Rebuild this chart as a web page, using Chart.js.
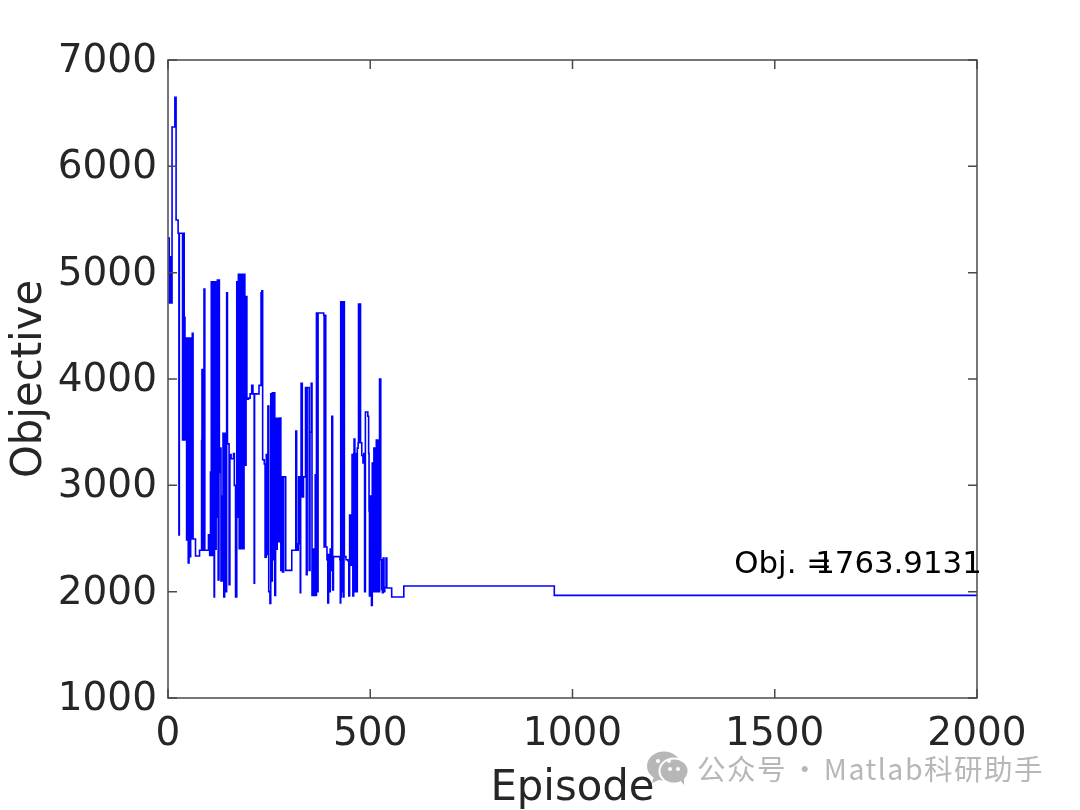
<!DOCTYPE html>
<html>
<head>
<meta charset="utf-8">
<style>
html, body { margin: 0; padding: 0; background: #fff; }
#wrap { position: relative; width: 1080px; height: 810px; overflow: hidden; }
#mark { position: absolute; left: 697px; top: 747px; font: 28.5px "Noto Sans CJK SC"; letter-spacing: 1.5px; word-spacing: -4.5px; color: #b7b7b7; white-space: nowrap; }
</style>
<script src="https://cdn.jsdelivr.net/npm/chart.js@4"></script>
</head>
<body>
<div id="wrap">
<canvas id="myChart" width="1080" height="810"></canvas>
<div id="mark">公众号 · Matlab科研助手</div>
</div>
<script>
var xTicks = [0, 500, 1000, 1500, 2000];
var yTicks = [1000, 2000, 3000, 4000, 5000, 6000, 7000];
var annotations = [
    { text: 'Obj. =', x: 1400, y: 2250 },
    { text: '1763.9131', x: 1600, y: 2250 }
];

var episodes = [
    0, 3, 5, 6, 10, 17, 20, 25, 27, 28,
    36, 38, 40, 42, 44, 46, 48, 50, 52, 54,
    56, 58, 60, 62, 66, 68, 74, 78, 82, 83,
    84, 86, 89, 91, 100, 103, 105, 107, 109, 110,
    112, 114, 115, 117, 119, 120, 122, 124, 126, 127,
    129, 131, 134, 136, 138, 140, 142, 145, 147, 151,
    153, 156, 160, 162, 164, 167, 170, 172, 174, 176,
    178, 181, 183, 186, 188, 190, 193, 195, 199, 203,
    207, 210, 213, 214, 222, 225, 228, 230, 232, 234,
    238, 240, 243, 245, 247, 249, 252, 254, 256, 258,
    260, 262, 264, 266, 268, 270, 272, 274, 276, 277,
    279, 281, 283, 286, 291, 306, 314, 316, 318, 322,
    323, 326, 327, 328, 329, 332, 335, 340, 342, 344,
    347, 349, 351, 354, 356, 358, 360, 362, 364, 366,
    367, 368, 369, 370, 371, 385, 386, 387, 388, 390,
    393, 395, 397, 399, 401, 403, 405, 407, 409, 415,
    425, 426, 427, 428, 429, 430, 431, 432, 433, 434,
    435, 436, 440, 445, 447, 449, 451, 453, 455, 457,
    459, 460, 462, 464, 466, 468, 470, 471, 473, 474,
    476, 479, 482, 484, 486, 488, 491, 494, 496, 497,
    498, 500, 503, 505, 506, 507, 508, 509, 510, 511,
    512, 513, 514, 515, 516, 517, 518, 519, 520, 521,
    522, 523, 526, 528, 530, 532, 534, 536, 539, 541,
    553, 583, 955, 2000
];
var objective = [
    5326, 4715, 5150, 4715, 6370, 6650, 5495, 5370, 2533, 5370,
    3426, 5370, 4580, 3426, 4385, 2486, 4385, 2270, 4385, 2330,
    4385, 2495, 4430, 2495, 2495, 2335, 2335, 2390, 2390, 3420,
    4090, 2390, 4845, 2390, 2535, 2340, 3125, 4915, 2340, 4915,
    3300, 1950, 4915, 2400, 4915, 2700, 4930, 2110, 4930, 3120,
    3350, 2100, 2900, 3490, 1950, 3490, 2000, 4810, 3390, 2065,
    3290, 3250, 3250, 3300, 3000, 1950, 4915, 2700, 4985, 2405,
    4985, 2405, 4985, 2405, 4985, 3190, 4775, 3810, 3820, 3860,
    3940, 3860, 2080, 3860, 3860, 3940, 3940, 4810, 4830, 3240,
    3200, 2325, 3290, 2350, 3745, 2000, 1890, 3860, 2100, 3870,
    2300, 3870, 1965, 3630, 2400, 3630, 2470, 3630, 2470, 3633,
    2200, 3080, 2185, 3080, 2200, 2390, 2390, 3510, 2390, 2450,
    3080, 2450, 1990, 3080, 3960, 2890, 3080, 3920, 2160, 3920,
    3920, 2200, 3500, 3960, 1965, 2400, 1965, 2400, 3100, 1965,
    4620, 2400, 4620, 2000, 4620, 4600, 2420, 4600, 4600, 2420,
    2300, 1893, 2350, 2000, 2400, 2200, 3650, 2015, 2330, 2330,
    2300, 1895, 4725, 1950, 4725, 2300, 4725, 2000, 4725, 1950,
    4725, 2330, 2300, 2290, 1960, 2720, 2250, 2720, 3290, 1960,
    3300, 3435, 2000, 3300, 2000, 3350, 3400, 4705, 3400, 4705,
    3400, 3280, 3210, 3300, 2000, 3690, 3690, 3650, 3300, 2760,
    1960, 2900, 1870, 3210, 2000, 3100, 2100, 3350, 2000, 3350,
    2000, 3350, 2000, 3425, 2100, 3425, 2000, 3425, 2000, 2900,
    2000, 4000, 2300, 2020, 1990, 2315, 2000, 2040, 2315, 2035,
    1950, 2053, 1965, 1965
];

var points = episodes.map(function (e, i) { return { x: e, y: objective[i] }; });

// box and inward ticks on all four sides, like a MATLAB axes
var boxPlugin = {
    id: 'boxPlugin',
    afterDatasetsDraw: function (chart) {
        var ctx = chart.ctx, a = chart.chartArea, sx = chart.scales.x, sy = chart.scales.y;
        var len = 9;
        ctx.save();
        ctx.strokeStyle = '#4a4a4a';
        ctx.lineWidth = 1.5;
        ctx.strokeRect(a.left, a.top, a.right - a.left, a.bottom - a.top);
        ctx.beginPath();
        xTicks.forEach(function (v) {
            var p = sx.getPixelForValue(v);
            ctx.moveTo(p, a.bottom); ctx.lineTo(p, a.bottom - len);
            ctx.moveTo(p, a.top); ctx.lineTo(p, a.top + len);
        });
        yTicks.forEach(function (v) {
            var p = sy.getPixelForValue(v);
            ctx.moveTo(a.left, p); ctx.lineTo(a.left + len, p);
            ctx.moveTo(a.right, p); ctx.lineTo(a.right - len, p);
        });
        ctx.stroke();
        // text labels sit on the data scale
        ctx.fillStyle = '#000';
        ctx.font = '30.8px "DejaVu Sans"';
        ctx.textBaseline = 'middle';
        annotations.forEach(function (t) {
            ctx.fillText(t.text, sx.getPixelForValue(t.x), sy.getPixelForValue(t.y));
        });
        ctx.restore();
    },
    afterDraw: function (chart) {
        // wechat logo of the watermark
        var ctx = chart.ctx;
        ctx.save();
        ctx.fillStyle = '#b7b7b7';
        ctx.beginPath(); ctx.ellipse(664, 766, 17, 14.5, 0, 0, Math.PI * 2); ctx.fill();
        ctx.beginPath(); ctx.moveTo(654, 776); ctx.lineTo(652, 783); ctx.lineTo(661, 779); ctx.fill();
        ctx.fillStyle = '#fff';
        ctx.beginPath(); ctx.ellipse(674, 771, 15.5, 13.5, 0, 0, Math.PI * 2); ctx.fill();
        ctx.fillStyle = '#b7b7b7';
        ctx.beginPath(); ctx.ellipse(674, 771, 13.5, 11.5, 0, 0, Math.PI * 2); ctx.fill();
        ctx.beginPath(); ctx.moveTo(680, 780); ctx.lineTo(684, 785); ctx.lineTo(684, 777); ctx.fill();
        ctx.fillStyle = '#fff';
        [[658, 761], [669, 761], [670, 769], [678, 769]].forEach(function (d) {
            ctx.beginPath(); ctx.arc(d[0], d[1], 2, 0, Math.PI * 2); ctx.fill();
        });
        ctx.restore();
    }
};

var myChart = new Chart(document.getElementById('myChart'), {
    type: 'line',
    data: {
        datasets: [{
            label: 'Objective',
            data: points,
            stepped: 'before',
            borderColor: '#0000ff',
            borderWidth: 1.6,
            pointRadius: 0,
            fill: false
        }]
    },
    options: {
        responsive: false,
        animation: false,
        plugins: {
            legend: { display: false },
            tooltip: { enabled: false }
        },
        layout: { padding: { top: 60, right: 103, left: 0, bottom: 0 } },
        scales: {
            x: {
                type: 'linear',
                min: 0,
                max: 2000,
                afterBuildTicks: function (s) { s.ticks = xTicks.map(function (v) { return { value: v }; }); },
                afterFit: function (s) { s.height = 112; },
                grid: { display: false, drawTicks: false },
                border: { display: false },
                ticks: { color: '#262626', font: { family: 'DejaVu Sans', size: 39 }, padding: 13, maxRotation: 0, callback: function (v) { return String(v); } },
                title: { display: true, text: 'Episode', color: '#262626', font: { family: 'DejaVu Sans', size: 41.8 }, padding: { top: 0, bottom: -4 } }
            },
            y: {
                min: 1000,
                max: 7000,
                afterBuildTicks: function (s) { s.ticks = yTicks.map(function (v) { return { value: v }; }); },
                afterFit: function (s) { s.width = 168; },
                grid: { display: false, drawTicks: false },
                border: { display: false },
                ticks: { color: '#262626', font: { family: 'DejaVu Sans', size: 39 }, padding: 11, labelOffset: 2, callback: function (v) { return String(v); } },
                title: { display: true, text: 'Objective', color: '#262626', font: { family: 'DejaVu Sans', size: 41.8 }, padding: { top: 5, bottom: 0 } }
            }
        }
    },
    plugins: [boxPlugin]
});
</script>
</body>
</html>
